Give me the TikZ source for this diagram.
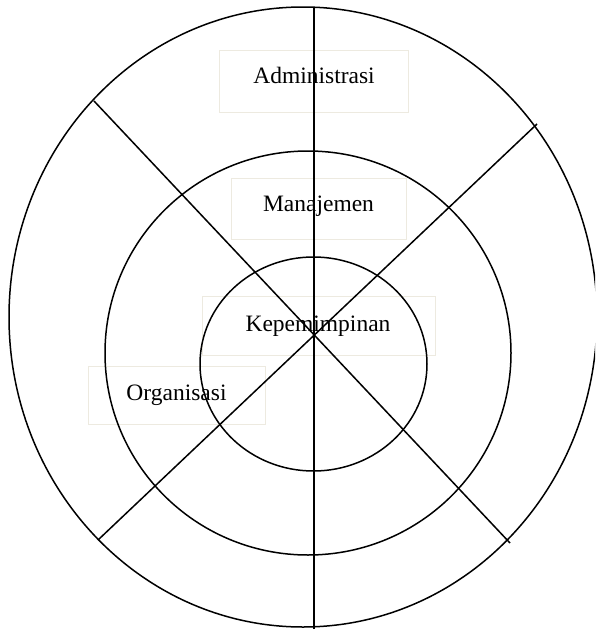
\documentclass[tikz,border=0pt]{standalone}
\usepackage{fontspec}
\setmainfont{Liberation Serif}
\definecolor{boxline}{HTML}{EDEAE0}
\begin{document}
\begin{tikzpicture}[x=1pt,y=-1pt,
  ring/.style={draw=black,line width=1.5pt},
  spoke/.style={draw=black,line width=1.5pt},
  labelbox/.style={draw=boxline,line width=1.4pt,rectangle,inner sep=0pt,anchor=north west},
  labeltext/.style={font=\fontsize{23.5}{28}\selectfont,anchor=base,inner sep=0pt}]
\useasboundingbox (0,0) rectangle (595,629);
\clip (0,0) rectangle (595,629);
% label boxes
\node[labelbox,minimum width=189pt,minimum height=62pt] (badm) at (219,50) {};
\node[labelbox,minimum width=175pt,minimum height=61pt] (bman) at (231,178) {};
\node[labelbox,minimum width=233pt,minimum height=59pt] (bkep) at (202,296) {};
\node[labelbox,minimum width=177pt,minimum height=58pt] (borg) at (88,366) {};
% rings
\draw[ring] (303,317) ellipse [x radius=294, y radius=310];
\draw[ring] (308,353) ellipse [x radius=203, y radius=202];
\draw[ring] (313.5,364) ellipse [x radius=113.5, y radius=107];
% spokes
\coordinate (vt) at (314,7);
\coordinate (vb) at (314,629);
\coordinate (ul) at (94,101);
\coordinate (lr) at (510,543);
\coordinate (ur) at (537,124);
\coordinate (ll) at (98,540);
\draw[spoke] (vt) -- (vb);
\draw[spoke] (ul) -- (lr);
\draw[spoke] (ur) -- (ll);
% labels
\node[labeltext] (tadm) at (314,83) {Administrasi};
\node[labeltext] (tman) at (318.5,211) {Manajemen};
\node[labeltext] (tkep) at (318,331) {Kepemimpinan};
\node[labeltext] (torg) at (176.5,400) {Organisasi};
\end{tikzpicture}
\end{document}
